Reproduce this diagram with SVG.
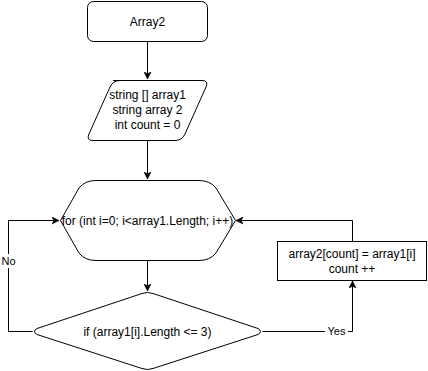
<svg xmlns="http://www.w3.org/2000/svg" width="428" height="371" viewBox="0 0 428 371">
  <style>
    .shape { fill: #ffffff; stroke: #000000; stroke-width: 1; }
    .edge { fill: none; stroke: #000000; stroke-width: 1; }
    .label { font-family: "Liberation Sans", Arial, sans-serif; font-size: 12px; fill: #000000; text-anchor: middle; }
    .edge-label { font-family: "Liberation Sans", Arial, sans-serif; font-size: 11px; fill: #000000; text-anchor: middle; }
  </style>
  <defs>
    <marker id="arrow" markerWidth="8" markerHeight="8" refX="7" refY="4" orient="auto" markerUnits="userSpaceOnUse">
      <path d="M0,0.5 L7,4 L0,7.5 L1.8,4 Z" fill="#000000" stroke="#000000" stroke-width="0.6"/>
    </marker>
  </defs>
  <rect width="428" height="371" fill="#ffffff"/>

  <!-- connectors -->
  <g id="connectors">
    <path class="edge" d="M147.5,41.5 L147.5,79" marker-end="url(#arrow)"/>
    <path class="edge" d="M147.5,140.5 L147.5,179" marker-end="url(#arrow)"/>
    <path class="edge" d="M147.5,260.5 L147.5,291" marker-end="url(#arrow)"/>
    <path class="edge" d="M32.5,331.5 L8.5,331.5 L8.5,220.5 L59,220.5" marker-end="url(#arrow)"/>
    <path class="edge" d="M262.5,331.5 L352.5,331.5 L352.5,281" marker-end="url(#arrow)"/>
    <path class="edge" d="M352.5,241.5 L352.5,220.5 L236,220.5" marker-end="url(#arrow)"/>
    <rect x="0" y="254" width="17" height="14" fill="#ffffff"/>
    <text class="edge-label" x="8.5" y="265">No</text>
    <rect x="325" y="324" width="23" height="14" fill="#ffffff"/>
    <text class="edge-label" x="336.5" y="335">Yes</text>
  </g>

  <!-- start -->
  <g id="start">
    <rect class="shape" x="87.5" y="1.5" width="120" height="40" rx="6" ry="6"/>
    <text class="label" x="147.5" y="25.5">Array2</text>
  </g>

  <!-- declarations -->
  <g id="declarations">
    <path class="shape" d="M113,80.5 L202,80.5 Q209,80.5 206,87 L185,134 Q182,140.5 175,140.5 L93,140.5 Q86,140.5 89,134 L110,87 Q113,80.5 120,80.5 Z"/>
    <text class="label" x="147.5" y="99">string [] array1</text>
    <text class="label" x="147.5" y="114">string array 2</text>
    <text class="label" x="147.5" y="128.5">int count = 0</text>
  </g>

  <!-- loop -->
  <g id="loop">
    <path class="shape" d="M96,180.5 L199,180.5 Q210,180.5 216,188 L235.5,220.5 L216,253 Q210,260.5 199,260.5 L96,260.5 Q85,260.5 79,253 L60.5,220.5 L79,188 Q85,180.5 96,180.5 Z"/>
    <text class="label" x="147.5" y="225">for (int i=0; i&lt;array1.Length; i++)</text>
  </g>

  <!-- condition -->
  <g id="condition">
    <path class="shape" d="M142,293.5 Q147.5,291.5 153,293.5 L258,328.5 Q263,331.5 258,334.5 L153,368.5 Q147.5,370.5 142,368.5 L37,334.5 Q32,331.5 37,328.5 Z"/>
    <text class="label" x="147.5" y="335.5">if (array1[i].Length &lt;= 3)</text>
  </g>

  <!-- copy -->
  <g id="copy">
    <rect class="shape" x="277.5" y="241.5" width="149" height="39"/>
    <text class="label" x="352" y="258">array2[count] = array1[i]</text>
    <text class="label" x="352" y="273">count ++</text>
  </g>
</svg>
